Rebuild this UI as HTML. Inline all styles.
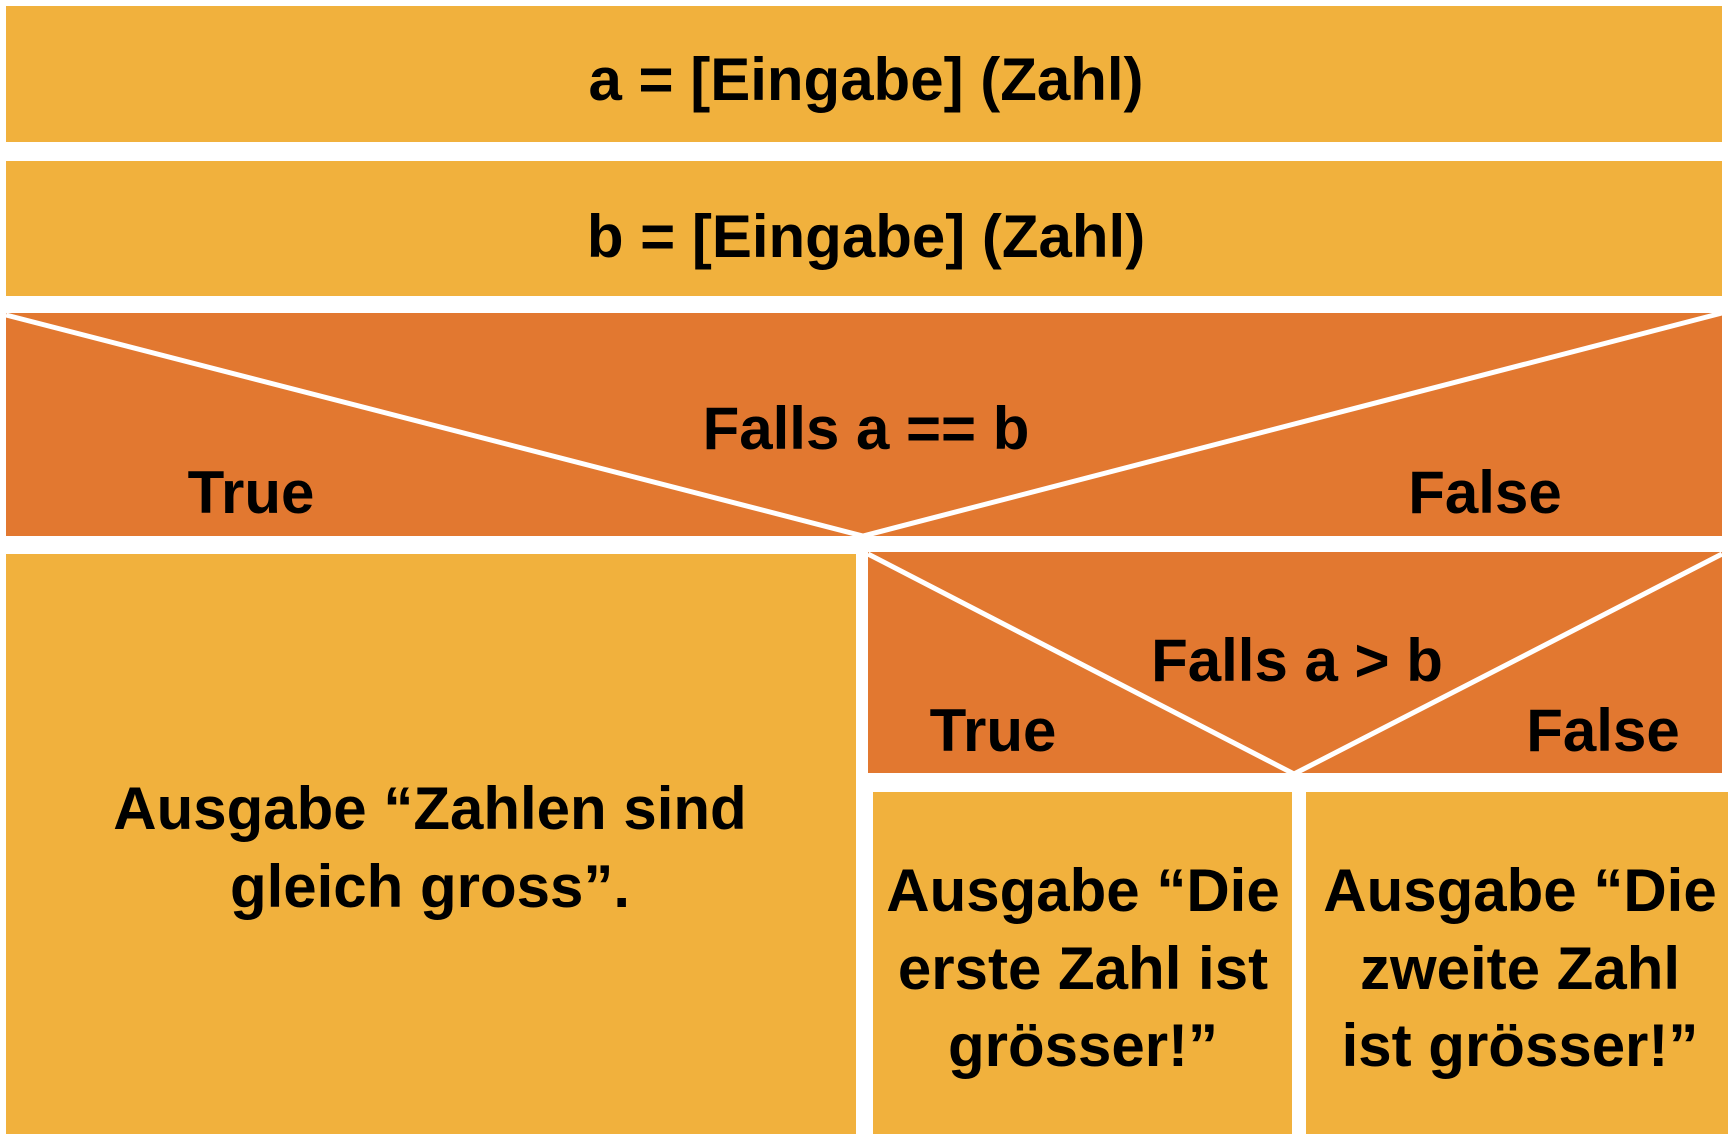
<!DOCTYPE html>
<html><head><meta charset="utf-8"><style>
html,body{margin:0;padding:0;background:#fff;}
svg{display:block;}
text{font-family:"Liberation Sans",Arial,sans-serif;font-weight:bold;font-size:60px;fill:#000;text-anchor:middle;}
</style></head><body>
<svg width="1734" height="1140" viewBox="0 0 1734 1140" xmlns="http://www.w3.org/2000/svg">
<rect x="0" y="0" width="1734" height="1140" fill="#fff"/>
<rect x="6" y="6" width="1716" height="136" fill="#F1B13D"/>
<rect x="6" y="161" width="1716" height="135" fill="#F1B13D"/>
<rect x="6" y="313" width="1716" height="223" fill="#E27830"/>
<rect x="6" y="554" width="850" height="580" fill="#F1B13D"/>
<rect x="868" y="552" width="854" height="221" fill="#E27830"/>
<rect x="873" y="792" width="419" height="342" fill="#F1B13D"/>
<rect x="1306" y="792" width="422" height="342" fill="#F1B13D"/>
<polyline points="6,315 863,536 1722,313" fill="none" stroke="#fff" stroke-width="5"/>
<polyline points="868,554 1294,774 1722,554" fill="none" stroke="#fff" stroke-width="5"/>
<text x="866" y="100">a = [Eingabe] (Zahl)</text>
<text x="866" y="257">b = [Eingabe] (Zahl)</text>
<text x="866" y="449">Falls a == b</text>
<text x="251" y="513">True</text>
<text x="1485" y="513">False</text>
<text x="1297" y="681">Falls a &gt; b</text>
<text x="993" y="751">True</text>
<text x="1603" y="751">False</text>
<text x="430" y="829">Ausgabe “Zahlen sind</text>
<text x="430" y="907">gleich gross”.</text>
<text x="1083" y="911">Ausgabe “Die</text>
<text x="1083" y="989">erste Zahl ist</text>
<text x="1083" y="1066">grösser!”</text>
<text x="1520" y="911">Ausgabe “Die</text>
<text x="1520" y="989">zweite Zahl</text>
<text x="1520" y="1066">ist grösser!”</text>
</svg>
</body></html>
